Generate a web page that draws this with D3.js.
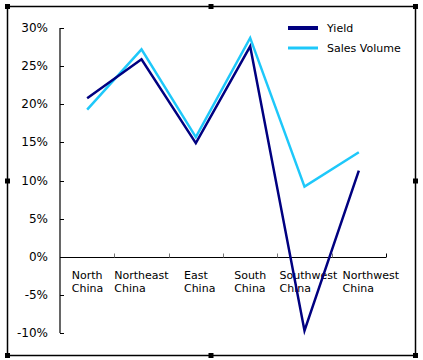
<!DOCTYPE html>
<html><head><meta charset="utf-8">
<script src="https://cdn.jsdelivr.net/npm/d3@7/dist/d3.min.js"></script>
<style>body{margin:0;background:#fff}svg{display:block}text{font-family:"DejaVu Sans",Verdana,sans-serif;font-size:11px;fill:#000}</style>
</head><body><svg id="c" width="423" height="360"></svg>
<script>
const categories = [["North","China"],["Northeast","China"],["East","China"],["South","China"],["Southwest","China"],["Northwest","China"]];
const yieldValues = [20.8, 25.9, 14.9, 27.6, -9.7, 11.3];
const salesValues = [19.3, 27.2, 15.7, 28.7, 9.2, 13.7];
const yTicks = [-10, -5, 0, 5, 10, 15, 20, 25, 30];
const seriesNames = ["Yield", "Sales Volume"];
const colors = ["#000080", "#1ec8fa"];

const svg = d3.select("#c");
// frame
svg.append("rect").attr("x",7.5).attr("y",6.5).attr("width",408).attr("height",349).attr("fill","#fff").attr("stroke","#000").attr("stroke-width",1.5);
const hx=[7.5,211,415.5], hy=[6.5,181,355.5];
hx.forEach(x=>hy.forEach(y=>{ if(x===211&&y===181) return;
  svg.append("rect").attr("x",x-2.5).attr("y",y-2.5).attr("width",5).attr("height",5).attr("fill","#000");}));

const x = d3.scaleBand().domain(d3.range(categories.length)).range([60,386]);
const y = d3.scaleLinear().domain([-10,30]).range([333,28]);

// y axis
const ya = svg.append("g").attr("transform","translate(60,0)");
ya.append("line").attr("y1",y(30)).attr("y2",y(-10)).attr("stroke","#000").attr("stroke-width",1.2);
yTicks.forEach(t=>{
  ya.append("line").attr("x1",0).attr("x2",4).attr("y1",Math.round(y(t))+0.5).attr("y2",Math.round(y(t))+0.5).attr("stroke","#000");
  ya.append("text").attr("x",-12).attr("y",y(t)+4).attr("text-anchor","end").style("font-size","12px").text(t+"%");
});
// x axis
const y0 = Math.round(y(0))+0.5;
svg.append("line").attr("x1",60).attr("x2",386).attr("y1",y0).attr("y2",y0).attr("stroke","#000").attr("stroke-width",1.2);
categories.forEach((c,i)=>{
  const bx = Math.round(x(i)+x.bandwidth());
  svg.append("line").attr("x1",bx+0.5).attr("x2",bx+0.5).attr("y1",y0).attr("y2",y0-4).attr("stroke", i===categories.length-1?"#000":"#777");
  const cx = x(i)+x.bandwidth()/2;
  const t = svg.append("text").attr("y",279);
  const s1 = t.append("tspan").text(c[0]);
  const w = s1.node().getComputedTextLength();
  const left = cx - w/2 + (i===4?4:0) + (i===5?12:0);
  s1.attr("x",left);
  t.append("tspan").attr("x",left).attr("dy",13).text(c[1]);
});

const line = d3.line().x((d,i)=>x(i)+x.bandwidth()/2).y(d=>y(d));
[salesValues, yieldValues].forEach((vals,k)=>{
  svg.append("path").datum(vals).attr("d",line).attr("fill","none")
    .attr("stroke", k===0?colors[1]:colors[0]).attr("stroke-width",2.5).attr("stroke-linejoin","miter");
});

// legend
seriesNames.forEach((n,i)=>{
  const ly = 28 + i*20;
  svg.append("line").attr("x1",288).attr("x2",318).attr("y1",ly).attr("y2",ly).attr("stroke",colors[i]).attr("stroke-width",i===0?4:3);
  svg.append("text").attr("x",327).attr("y",ly+4).text(n);
});
</script></body></html>
